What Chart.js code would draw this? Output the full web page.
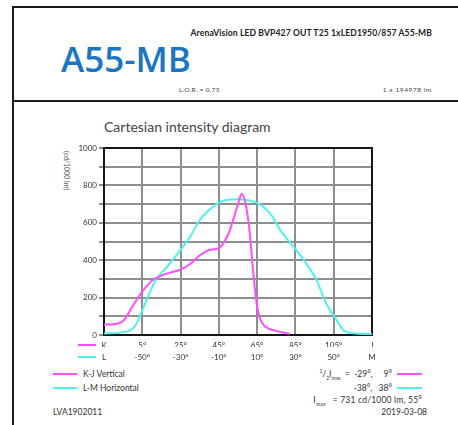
<!DOCTYPE html>
<html>
<head>
<meta charset="utf-8">
<script src="https://cdn.jsdelivr.net/npm/chart.js@4.4.1/dist/chart.umd.min.js"></script>
<style>
  html, body { margin: 0; padding: 0; background: #fff; }
  body { width: 458px; height: 425px; position: relative; overflow: hidden;
         font-family: 'Lato', 'Liberation Sans', sans-serif; color: #333; }
  #chart { position: absolute; left: 0; top: 0; }
  .t { position: absolute; white-space: nowrap; }
  .ln { position: absolute; height: 2px; }
  .rule { position: absolute; background: #1c1c1c; }
</style>
</head>
<body>
<div class="rule" style="left:12px; top:6px; width:446px; height:2px;"></div>
<div class="rule" style="left:12px; top:6px; width:2px; height:419px;"></div>
<div class="rule" style="left:12px; top:100px; width:446px; height:2px;"></div>

<div class="t" style="right:26px; top:28px; font-size:8.6px; font-weight:bold; color:#222; letter-spacing:0.1px;">ArenaVision LED BVP427 OUT T25 1xLED1950/857 A55-MB</div>
<div class="t" style="left:61px; top:35px; font-family:'Open Sans'; font-weight:600; font-size:35px; color:#1a76c0;">A55-MB</div>
<div class="t" style="left:179px; top:86px; font-size:6.5px; color:#444; letter-spacing:0.3px;">L.O.R. = 0.75</div>
<div class="t" style="right:26px; top:86px; font-size:6.5px; color:#444; letter-spacing:0.6px;">1 x 194978 lm</div>

<div class="t" style="left:104px; top:118px; font-size:14px; color:#444;">Cartesian intensity diagram</div>
<div class="t" style="left:63px; top:151px; font-size:7px; color:#555; writing-mode:vertical-rl;">(cd/1000 lm)</div>

<div class="ln" style="left:78px; top:344px; width:18px; background:#ff4dff;"></div>
<div class="ln" style="left:78px; top:356px; width:18px; background:#4ef0f0;"></div>

<div class="ln" style="left:53px; top:373px; width:24px; background:#ff4dff;"></div>
<div class="ln" style="left:53px; top:387px; width:24px; background:#4ef0f0;"></div>
<div class="t" style="left:83px; top:369px; font-size:8.5px; color:#333;">K-J Vertical</div>
<div class="t" style="left:83px; top:383px; font-size:8.5px; color:#333;">L-M Horizontal</div>

<div class="t" style="right:66px; top:368px; font-size:8.5px; color:#333;"><sup style="font-size:5px">1</sup>/<sub style="font-size:5px">2</sub>I<sub style="font-size:5px">max</sub> &nbsp;= &nbsp;-29°, &nbsp;&nbsp;&nbsp;&nbsp;9°</div>
<div class="t" style="right:66px; top:383px; font-size:8.5px; color:#333;">-38°, &nbsp;&nbsp;38°</div>
<div class="ln" style="left:397px; top:373px; width:25px; background:#ff4dff;"></div>
<div class="ln" style="left:397px; top:387px; width:25px; background:#4ef0f0;"></div>
<div class="t" style="right:36px; top:395px; font-size:8.5px; color:#333; letter-spacing:0.2px;">I<sub style="font-size:5px">max</sub> &nbsp;&nbsp;= 731 cd/1000 lm, 55°</div>
<div class="t" style="left:53px; top:407px; font-size:8.5px; color:#333;">LVA1902011</div>
<div class="t" style="right:31px; top:407px; font-size:8.5px; color:#333;">2019-03-08</div>

<canvas id="chart" width="458" height="425"></canvas>

<script>
// K-J vertical plane (K side = -15, J side = 125)
const vertAngles = [-15, -10, -5, 0, 5, 10, 15, 20, 25, 30, 35, 40, 45, 50, 52, 55, 57, 59, 61, 63, 65, 67, 70, 75, 82];
const vertValues = [55, 58, 75, 155, 232, 290, 318, 335, 350, 380, 425, 455, 465, 540, 600, 700, 755, 700, 560, 330, 150, 75, 40, 22, 5];

// L-M horizontal plane (L side = -70, M side = 70)
const horAngles = [-70, -58, -54, -51, -47, -43, -37, -30, -25, -20, -14, -10, -6, 0, 6, 12, 18, 22, 29, 35, 41, 46, 51, 55, 60, 70];
const horValues = [8, 18, 44, 107, 205, 294, 365, 455, 526, 615, 678, 708, 722, 726, 719, 696, 633, 562, 472, 392, 294, 170, 89, 27, 9, 5];

const kTicks = [-15, 5, 25, 45, 65, 85, 105, 125];
const lTicks = [-70, -50, -30, -10, 10, 30, 50, 70];

const gridGray = '#8e8e8e';

const framePlugin = {
    id: 'frame',
    beforeDatasetsDraw(chart) {
        const { ctx, chartArea: a } = chart;
        ctx.save();
        ctx.strokeStyle = '#161616';
        ctx.lineWidth = 2;
        ctx.strokeRect(a.left, a.top, a.right - a.left, a.bottom - a.top);
        ctx.restore();
    }
};

new Chart(document.getElementById('chart'), {
    type: 'line',
    data: {
        datasets: [{
            label: 'K-J Vertical',
            data: vertAngles.map((a, i) => ({ x: a, y: vertValues[i] })),
            xAxisID: 'xK',
            borderColor: '#ff4dff',
            borderWidth: 2,
            pointRadius: 0,
            cubicInterpolationMode: 'monotone'
        }, {
            label: 'L-M Horizontal',
            data: horAngles.map((a, i) => ({ x: a, y: horValues[i] })),
            xAxisID: 'xL',
            borderColor: '#4ef0f0',
            borderWidth: 2,
            pointRadius: 0,
            cubicInterpolationMode: 'monotone'
        }]
    },
    options: {
        responsive: false,
        animation: false,
        layout: { padding: { left: 64, top: 148, right: 86, bottom: 64 } },
        plugins: { legend: { display: false }, tooltip: { enabled: false } },
        scales: {
            y: {
                min: 0,
                max: 1000,
                ticks: {
                    stepSize: 100,
                    padding: 2,
                    color: '#333',
                    font: { size: 8, family: 'Lato' },
                    callback: v => (v % 200 === 0 ? v : '')
                },
                grid: { color: gridGray, lineWidth: 2, tickLength: 5, tickColor: gridGray },
                border: { color: '#161616', width: 2 },
                afterFit: s => { s.width = 40; }
            },
            xK: {
                type: 'linear',
                position: 'bottom',
                min: -15,
                max: 125,
                afterBuildTicks: s => { s.ticks = kTicks.map(v => ({ value: v })); },
                ticks: {
                    autoSkip: false,
                    maxRotation: 0,
                    padding: 6,
                    color: '#333',
                    font: { size: 8, family: 'Lato' },
                    callback: v => (v === -15 ? 'K' : v === 125 ? 'J' : v + '°')
                },
                grid: { color: gridGray, lineWidth: 2, drawTicks: false },
                border: { color: '#161616', width: 2 },
                afterFit: s => { s.height = 12; }
            },
            xL: {
                type: 'linear',
                position: 'bottom',
                min: -70,
                max: 70,
                afterBuildTicks: s => { s.ticks = lTicks.map(v => ({ value: v })); },
                ticks: {
                    autoSkip: false,
                    maxRotation: 0,
                    padding: 6,
                    color: '#333',
                    font: { size: 8, family: 'Lato' },
                    callback: v => (v === -70 ? 'L' : v === 70 ? 'M' : v + '°')
                },
                grid: { display: false, drawTicks: false },
                border: { display: false },
                afterFit: s => { s.height = 14; }
            }
        }
    },
    plugins: [framePlugin]
});
</script>
</body>
</html>
